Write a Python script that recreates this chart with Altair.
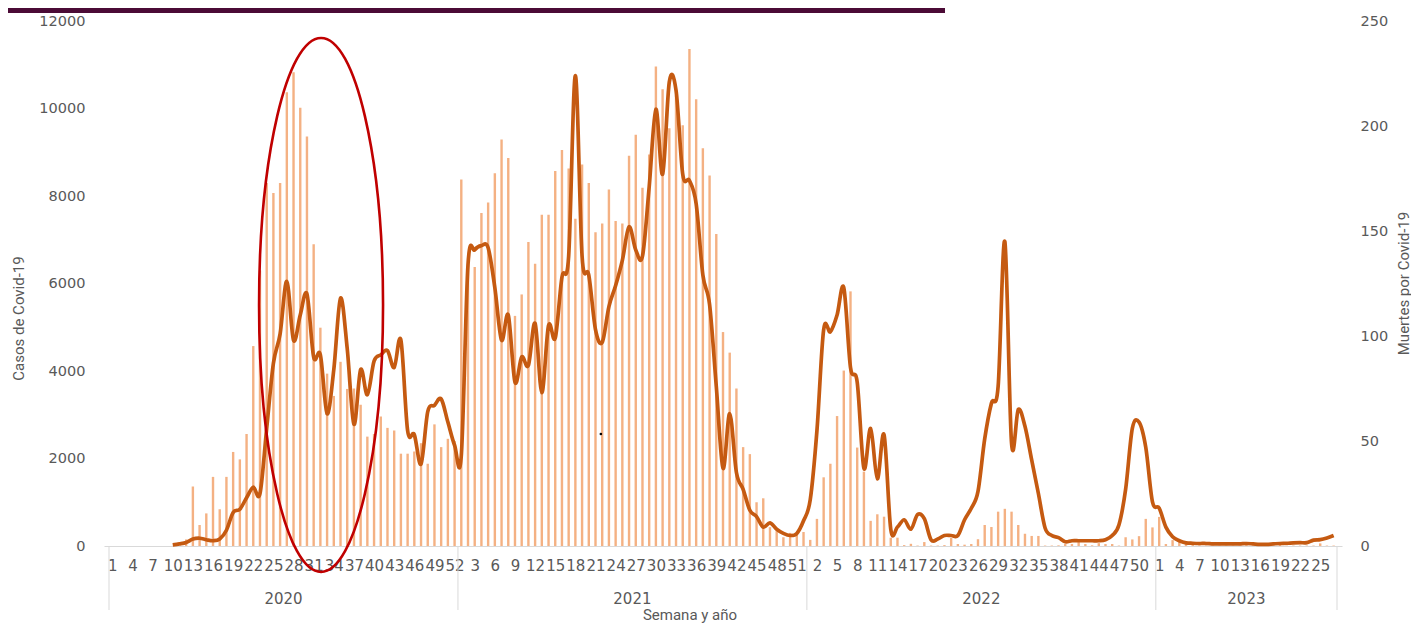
import altair as alt
import pandas as pd

# ---------------- data ----------------
anios = ["2020", "2021", "2022", "2023"]
semanas_por_anio = [52, 52, 52, 27]

casos_2020 = [0, 0, 0, 0, 0, 0, 0, 0, 0, 0, 0,
              150, 1360, 480, 745, 1580, 840, 1580, 2150, 1980, 2560,
              4570, 6300, 8300, 8070, 8300, 10370, 10830, 10020, 9360, 6900,
              4990, 3940, 3430, 4210, 3590, 3600, 3230, 2500, 2560, 2960,
              2700, 2640, 2110, 2110, 2160, 2350, 1880, 2780, 2260, 2450, 2400]
casos_2021 = [8380, 6450, 6380, 7610, 7850, 8520, 9290, 8870, 5260, 5750,
              6950, 6450, 7570, 7570, 8570, 9050, 8630, 7480, 8720, 8300,
              7170, 7370, 8150, 7430, 7370, 8920, 9400, 8190, 8950, 10960,
              10440, 9550, 10300, 9620, 11360, 10210, 9090, 8470, 7130, 4890,
              4420, 3600, 2260, 2100, 1000, 1090, 430, 340, 200, 300, 300, 320]
casos_2022 = [140, 620, 1570, 1880, 2970, 4010, 5820, 2250, 1700, 575,
              725, 670, 190, 190, 20, 50, 10, 90, 10, 10,
              20, 185, 45, 30, 45, 155, 480, 435, 785, 850,
              785, 480, 280, 230, 230, 10, 10, 15, 45, 45,
              90, 45, 15, 65, 45, 45, 10, 200, 150, 225, 620, 425]
casos_2023 = [665, 45, 135, 100, 45, 30, 15, 10, 10, 10, 10, 10, 10, 85,
              10, 10, 10, 10, 75, 10, 10, 10, 10, 10, 60, 10, 10]

muertes_2020 = [None] * 9 + [0.5, 1, 1.7, 3.3, 3.7, 3, 2.5, 3.3, 7.5, 16,
                             17.5, 23, 28, 25, 56, 87, 101, 126, 98, 110,
                             120, 90, 91, 63, 84, 118, 94, 58, 84, 72,
                             88, 91, 93, 85, 98, 55, 53, 39, 64, 67, 70, 59, 48]
muertes_2021 = [43, 134, 141, 143, 142, 123, 98, 110, 78, 90,
                86, 106, 73, 105, 99, 128, 138, 224, 138, 129,
                103, 97, 114, 124, 136, 152, 141, 138, 171, 208,
                177, 221, 217, 177, 174, 163, 129, 115, 76, 37,
                63, 35, 27, 17, 14, 9, 11, 8, 6, 5, 6, 12]
muertes_2022 = [22, 55, 103, 102, 110, 123, 85, 78, 37, 56,
                32, 53, 8, 9, 12.5, 8, 15, 13, 3, 3.3,
                5, 5, 5, 12.5, 18, 26, 51, 68, 76, 145,
                49, 65, 57, 41, 25, 8.6, 5, 4, 2, 2.5,
                2.5, 2.5, 2.5, 2.5, 3, 5, 10, 27, 56, 59, 47, 21]
muertes_2023 = [18, 9, 4.4, 2.5, 1.5, 1.3, 1.2, 1.2, 1, 1, 1, 1, 1, 1.2,
                1, 0.8, 0.8, 1, 1.2, 1.3, 1.5, 1.6, 1.6, 2.8, 3, 3.8, 5]

casos_ticks = [0, 2000, 4000, 6000, 8000, 10000, 12000]
muertes_ticks = [0, 50, 100, 150, 200, 250]

# ---------------- tables ----------------
casos = casos_2020 + casos_2021 + casos_2022 + casos_2023
muertes = muertes_2020 + muertes_2021 + muertes_2022 + muertes_2023
semana = []
for n in semanas_por_anio:
    semana += list(range(1, n + 1))
n_total = len(casos)

df = pd.DataFrame({
    "pos": [i + 0.5 for i in range(n_total)],
    "casos": casos,
    "muertes": muertes,
    "semana": semana,
})

bounds = [0]
for n in semanas_por_anio:
    bounds.append(bounds[-1] + n)

tick_idx = list(range(0, n_total, 3))
tick_pos = [i + 0.5 for i in tick_idx]

# week number of a position: nested condition over the year boundaries
label_expr = ""
for k in range(len(semanas_por_anio)):
    piece = "(floor(datum.value) - %d + 1)" % bounds[k]
    if k < len(semanas_por_anio) - 1:
        label_expr += "floor(datum.value) < %d ? %s : " % (bounds[k + 1], piece)
    else:
        label_expr += piece
label_expr = "'' + (" + label_expr + ")"

sep_df = pd.DataFrame({"pos": bounds})
year_df = pd.DataFrame({
    "pos": [(bounds[k] + bounds[k + 1]) / 2 for k in range(len(anios))],
    "anio": anios,
})

GREY = "#595959"
LINE_C = "#C55A11"
BAR_C = "#F4B183"
TICK_FONT = "DejaVu Sans"
TITLE_FONT = "Roboto"

xscale = alt.Scale(domain=[0, n_total], nice=False, zero=False)

x_axis = alt.Axis(values=tick_pos, labelExpr=label_expr, title=None, grid=False,
                  ticks=False, tickSize=0, domain=True, domainColor="#D9D9D9",
                  domainWidth=1, labelFont=TICK_FONT, labelFontSize=15,
                  labelColor=GREY, labelPadding=12, labelOverlap=False,
                  labelFlush=False, labelAngle=0, labelBound=False)

left_axis = alt.Axis(values=casos_ticks, format="d", title="Casos de Covid-19",
                     grid=False, ticks=False, tickSize=0, domain=False,
                     labelFont=TICK_FONT, labelFontSize=14.5, labelColor=GREY,
                     labelPadding=19, titleFont=TITLE_FONT, titleFontSize=15,
                     titleFontWeight="normal", titleColor=GREY, titleAngle=270,
                     titleX=-86, titleY=297, titleAlign="center",
                     titleBaseline="middle")

right_axis = alt.Axis(orient="right", values=muertes_ticks, format="d",
                      title="Muertes por Covid-19", grid=False, ticks=False,
                      tickSize=0, domain=False, labelFont=TICK_FONT,
                      labelFontSize=14.5, labelColor=GREY, labelPadding=18,
                      titleFont=TITLE_FONT, titleFontSize=15,
                      titleFontWeight="normal", titleColor=GREY, titleAngle=270,
                      titleX=61, titleY=262, titleAlign="center",
                      titleBaseline="middle")

X = alt.X("pos:Q", scale=xscale, axis=x_axis)

bars = alt.Chart(df).mark_bar(size=2.4, color=BAR_C).encode(
    x=X,
    y=alt.Y("casos:Q", scale=alt.Scale(domain=[0, 12000], nice=False), axis=left_axis),
)

line = alt.Chart(df).mark_line(interpolate="cardinal", color=LINE_C,
                               strokeWidth=3.7).encode(
    x=X,
    y=alt.Y("muertes:Q", scale=alt.Scale(domain=[0, 250], nice=False), axis=right_axis),
)

seps = alt.Chart(sep_df).mark_rule(color="#D9D9D9", strokeWidth=1).encode(
    x=X,
    y=alt.value(525),
    y2=alt.value(589),
)

years = alt.Chart(year_df).mark_text(font=TICK_FONT, fontSize=15, color=GREY,
                                     baseline="middle", align="center").encode(
    x=X,
    y=alt.value(578),
    text="anio:N",
)

xtitle = alt.Chart(pd.DataFrame({"t": ["Semana y año"]})).mark_text(
    font=TITLE_FONT, fontSize=15, color=GREY, baseline="middle", align="center"
).encode(x=alt.value(586), y=alt.value(594), text="t:N")

# red ellipse annotation (custom symbol shape)
ell_df = pd.DataFrame({"pos": [31.6], "casos": [5510]})
ellipse = alt.Chart(ell_df).mark_point(
    shape="M -0.2322 0 A 0.2322 1 0 1 0 0.2322 0 A 0.2322 1 0 1 0 -0.2322 0 Z",
    size=534 * 534, filled=False, stroke="#C00000", strokeWidth=2.6, opacity=1,
).encode(
    x=X,
    y=alt.Y("casos:Q", scale=alt.Scale(domain=[0, 12000], nice=False), axis=None),
)

dot_df = pd.DataFrame({"pos": [73.3], "casos": [2560]})
dot = alt.Chart(dot_df).mark_circle(size=7, color="black", opacity=1).encode(
    x=X,
    y=alt.Y("casos:Q", scale=alt.Scale(domain=[0, 12000], nice=False), axis=None),
)

band = alt.Chart(pd.DataFrame({"a": [0]})).mark_rect(color="#4B0B36").encode(
    x=alt.value(-96), x2=alt.value(841), y=alt.value(-13), y2=alt.value(-8)
)

chart = alt.layer(bars, line, seps, years, xtitle, ellipse, dot, band).resolve_scale(
    y="independent"
).properties(
    width=1238, height=525,
    autosize=alt.AutoSizeParams(type="none"),
    padding={"left": 96, "top": 13, "right": 69, "bottom": 77},
).configure_view(stroke=None)

chart.save("out.html", embed_options={"renderer": "svg", "actions": False})
